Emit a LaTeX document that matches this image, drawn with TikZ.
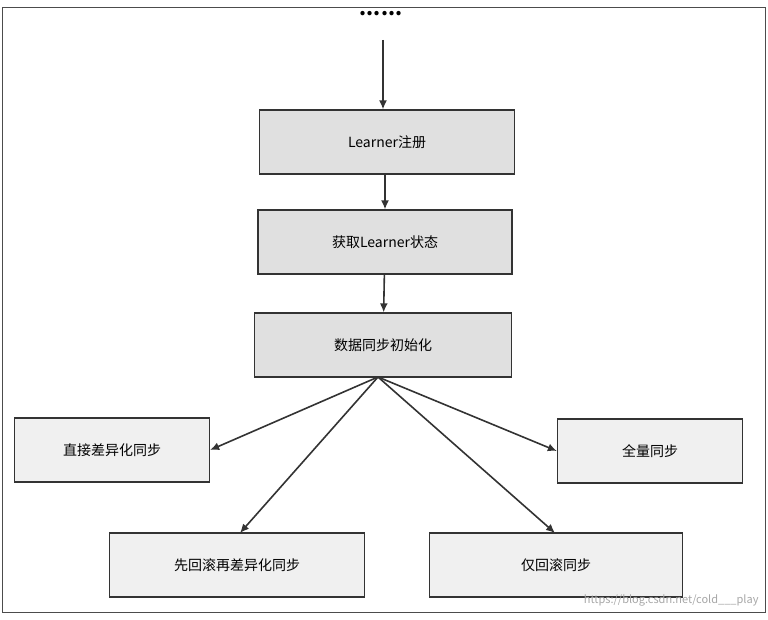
\documentclass[tikz,border=0pt]{standalone}
\usepackage{fontspec}
\usetikzlibrary{arrows.meta}
\setmainfont{Noto Sans CJK SC}
\begin{document}
\begin{tikzpicture}[x=1pt,y=-1pt,
  box/.style={draw=black!80,line width=1.3pt,fill=black!12,minimum height=64pt,font=\fontsize{14}{16}\selectfont},
  arr/.style={draw=black!80,line width=1.6pt,-{Latex[length=9pt,width=8pt]}}]
\useasboundingbox (0,0) rectangle (768,620);
\draw[black!70,line width=1pt] (2,8) rectangle (765,612);
\node[font=\fontsize{20}{20}\selectfont\bfseries] (dots) at (381,14) {......};
\coordinate (s) at (383,40);
\node[box,minimum width=255pt] (a) at (387,142) {Learner注册};
\node[box,minimum width=254pt] (b) at (385,242) {获取Learner状态};
\node[box,minimum width=257pt] (c) at (383,345) {数据同步初始化};
\node[box,minimum width=195pt,fill=black!6] (d) at (112,450) {直接差异化同步};
\node[box,minimum width=185pt,fill=black!6] (e) at (650,451) {全量同步};
\node[box,minimum width=255pt,fill=black!6] (f) at (237,565) {先回滚再差异化同步};
\node[box,minimum width=253pt,fill=black!6] (g) at (556,565) {仅回滚同步};
\draw[arr] (s) -- (a.north -| s);
\draw[arr] (a.south -| b.north) -- (b.north);
\draw[arr] (b) -- (c);
\coordinate (o) at (378,377);
\draw[arr] (o) -- (d.east);
\draw[arr] (o) -- (e.west);
\draw[arr] (o) -- (240,533);
\draw[arr] (o) -- (555,533);
\node[text=black!35,font=\fontsize{11}{13}\selectfont,anchor=east] (w) at (762,600) {https://blog.csdn.net/cold\_\_\_play};
\end{tikzpicture}
\end{document}
